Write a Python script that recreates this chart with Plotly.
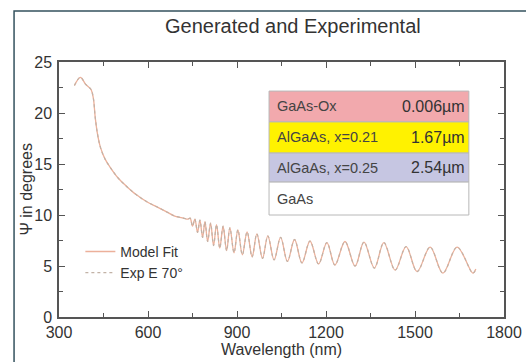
import plotly.graph_objects as go

# ---- data ----
smooth_wl = [352, 372, 390, 408, 416, 422, 430, 440, 455, 472, 500, 528, 560, 596,
             630, 663, 690, 719, 735]
smooth_psi = [22.7, 23.5, 22.8, 22.3, 21.4, 19.6, 17.9, 16.6, 15.5, 14.7, 13.6, 12.8,
              12.0, 11.3, 10.8, 10.3, 9.9, 9.7, 9.6]

peak_wl = [742, 758, 775, 792, 811, 831, 853, 876, 903, 934, 967, 1004, 1047, 1094,
           1146, 1203, 1264, 1328, 1395, 1470, 1551, 1642]
peak_psi = [9.7, 9.6, 9.5, 9.35, 9.2, 9.05, 8.9, 8.75, 8.55, 8.35, 8.15, 7.95, 7.8,
            7.6, 7.45, 7.3, 7.4, 7.35, 7.3, 6.9, 6.85, 6.85]
trough_wl = [750, 767, 784, 801, 821, 842, 865, 890, 918, 951, 986, 1025, 1070, 1119,
             1175, 1230, 1298, 1363, 1433, 1507, 1594, 1695]
trough_psi = [8.9, 8.3, 7.8, 7.4, 7.0, 6.75, 6.5, 6.3, 6.1, 5.9, 5.75, 5.6, 5.45, 5.3,
              5.2, 5.1, 5.0, 4.8, 4.6, 4.45, 4.3, 4.3]
end_wl = [1705]
end_psi = [4.7]

layers = ["GaAs-Ox", "AlGaAs, x=0.21", "AlGaAs, x=0.25", "GaAs"]
thickness = ["0.006\u00b5m", "1.67\u00b5m", "2.54\u00b5m", ""]
layer_colors = ["#f2a9ad", "#fff200", "#c6c6e2", "#ffffff"]

x_ticks = [300, 600, 900, 1200, 1500, 1800]
y_ticks = [0, 5, 10, 15, 20, 25]

# build combined curve
osc = []
for i in range(len(peak_wl)):
    osc.append((peak_wl[i], peak_psi[i]))
    osc.append((trough_wl[i], trough_psi[i]))
wl = smooth_wl + [p[0] for p in osc] + end_wl
psi = smooth_psi + [p[1] for p in osc] + end_psi
model_psi = psi
exp_psi = psi

FONT = "Liberation Sans, Arial, sans-serif"

fig = go.Figure()
fig.add_trace(go.Scatter(x=wl, y=model_psi, mode="lines", name="Model Fit",
                         line=dict(color="#ecb09a", width=1.3, shape="spline")))
fig.add_trace(go.Scatter(x=wl, y=exp_psi, mode="lines", name="Exp E 70\u00b0",
                         line=dict(color="#c2b2a6", width=1.2, dash="dot", shape="spline")))

# frame border around the figure
fig.add_shape(type="rect", xref="paper", yref="paper", x0=-0.101, x1=1.3, y0=-0.4, y1=1.2,
              line=dict(color="#34525e", width=1.5), fillcolor="rgba(0,0,0,0)", layer="above")

# layer table
row_edges = [0.886, 0.765, 0.643, 0.529, 0.40]
tx0, tx1 = 0.472, 0.921
for i, name in enumerate(layers):
    fig.add_shape(type="rect", xref="paper", yref="paper", x0=tx0, x1=tx1,
                  y0=row_edges[i + 1], y1=row_edges[i],
                  line=dict(color="#b8b8b8", width=1), fillcolor=layer_colors[i])
    yc = (row_edges[i] + row_edges[i + 1]) / 2
    fig.add_annotation(x=0.486, y=yc, xref="paper", yref="paper", text=name,
                       showarrow=False, xanchor="left", yanchor="middle",
                       font=dict(family=FONT, size=14.5, color="#444"))
    if thickness[i]:
        fig.add_annotation(x=0.917, y=yc, xref="paper", yref="paper", text=thickness[i],
                           showarrow=False, xanchor="right", yanchor="middle",
                           font=dict(family=FONT, size=16, color="#333"))

# title
fig.add_annotation(x=0.526, y=1.141, xref="paper", yref="paper",
                   text="Generated and Experimental", showarrow=False,
                   xanchor="center", yanchor="middle",
                   font=dict(family=FONT, size=20, color="#333"))

# y-axis title
fig.add_annotation(x=-0.074, y=0.5, xref="paper", yref="paper",
                   text="\u03a8 in degrees", showarrow=False, textangle=-90,
                   xanchor="center", yanchor="middle",
                   font=dict(family=FONT, size=16, color="#333"))

axis_common = dict(showline=True, linecolor="#555", linewidth=1.5, mirror="allticks",
                   ticks="inside", ticklen=6, tickwidth=1.2, tickcolor="#555",
                   showgrid=False, zeroline=False, automargin=False,
                   tickfont=dict(family=FONT, size=16, color="#333"))

fig.update_layout(
    width=526, height=362,
    margin=dict(l=59, r=22, t=62, b=45),
    paper_bgcolor="white", plot_bgcolor="white",
    showlegend=True,
    legend=dict(x=0.048, y=0.318, xanchor="left", yanchor="top",
                bgcolor="rgba(0,0,0,0)", font=dict(family=FONT, size=14, color="#333"),
                tracegroupgap=0, itemwidth=30),
    xaxis=dict(range=[300, 1800], tickvals=x_ticks, ticktext=[str(v) for v in x_ticks],
               minor=dict(dtick=150, tick0=300, ticks="inside", ticklen=4, tickcolor="#555"),
               title=dict(text="Wavelength (nm)", font=dict(family=FONT, size=16, color="#333"),
                          standoff=2),
               **axis_common),
    yaxis=dict(range=[0, 25], tickvals=y_ticks, ticktext=[str(v) for v in y_ticks],
               minor=dict(dtick=2.5, tick0=0, ticks="inside", ticklen=4, tickcolor="#555"),
               ticklabelstandoff=2,
               **axis_common),
)

fig.write_html("out.html", config={"displayModeBar": False},
               post_script="document.body.style.margin='0';document.body.style.padding='0';")
